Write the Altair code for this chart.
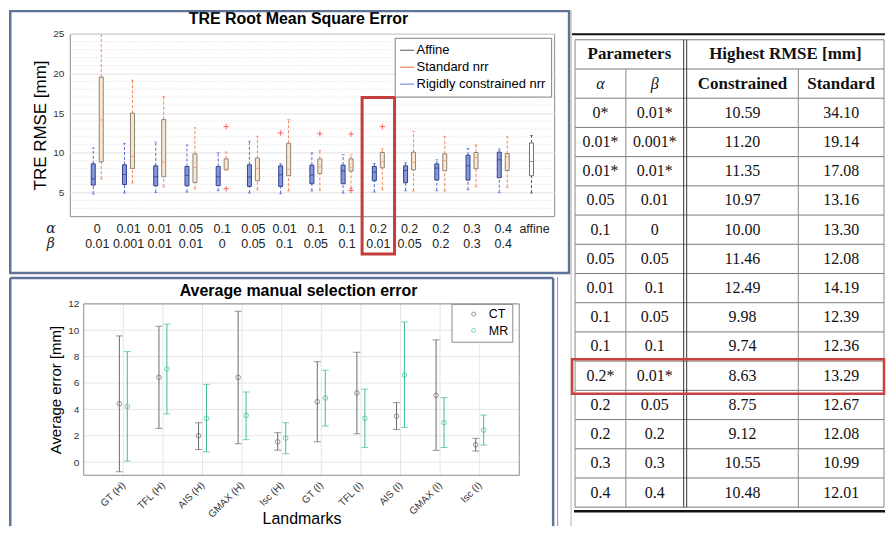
import altair as alt
import pandas as pd

# ---------------- TRE RMSE box plots ----------------
alphas = ["0", "0.01", "0.01", "0.05", "0.1", "0.05", "0.01", "0.1", "0.1", "0.2", "0.2", "0.2", "0.3", "0.4", "affine"]
betas = ["0.01", "0.001", "0.01", "0.01", "0", "0.05", "0.1", "0.05", "0.1", "0.01", "0.05", "0.2", "0.3", "0.4", ""]

con_lo = [4.80, 4.92, 5.00, 5.04, 5.21, 4.92, 4.84, 5.17, 4.92, 5.04, 5.21, 5.21, 5.34, 4.96]
con_q1 = [5.92, 6.00, 5.84, 5.84, 5.84, 5.76, 5.76, 6.09, 6.09, 6.47, 6.22, 6.55, 6.55, 6.85]
con_med = [6.72, 7.26, 6.97, 7.14, 6.97, 6.93, 7.22, 7.18, 7.73, 7.56, 7.77, 8.06, 8.35, 9.11]
con_q3 = [8.60, 8.48, 8.35, 8.27, 8.27, 8.48, 8.35, 8.44, 8.44, 8.27, 8.35, 8.60, 9.69, 10.07]
con_hi = [10.59, 11.20, 11.35, 10.97, 10.00, 11.46, 8.60, 9.98, 9.74, 8.63, 8.75, 9.12, 10.55, 10.48]

std_lo = [6.68, 6.18, 5.71, 5.46, 7.85, 5.34, 5.17, 5.25, 5.50, 5.34, 5.17, 5.17, 5.71, 5.63]
std_q1 = [8.86, 8.02, 6.97, 6.26, 7.85, 6.47, 7.10, 7.39, 7.68, 8.10, 7.85, 7.73, 7.98, 7.77]
std_med = [14.13, 9.53, 8.86, 8.14, 7.93, 8.02, 7.93, 8.23, 8.10, 8.90, 8.77, 9.02, 9.40, 9.48]
std_q3 = [19.54, 15.00, 14.18, 9.86, 9.23, 9.32, 11.20, 9.23, 9.23, 10.03, 10.07, 9.86, 10.03, 9.90]
std_hi = [34.10, 19.14, 17.08, 13.16, 10.10, 12.08, 14.19, 10.28, 9.74, 10.49, 12.67, 12.08, 10.99, 12.01]

aff_lo, aff_q1, aff_med, aff_q3, aff_hi = [4.92], [7.10], [8.90], [11.24], [12.17]

con_out_cat = [7]
con_out_val = [12.49]
std_out_cat = [5, 5, 8, 9, 9, 10]
std_out_val = [13.30, 5.46, 12.39, 12.36, 5.25, 13.29]
highlight_cat = 10

# ---------------- Average manual selection error ----------------
landmarks = ["GT (H)", "TFL (H)", "AIS (H)", "GMAX (H)", "Isc (H)",
             "GT (I)", "TFL (I)", "AIS (I)", "GMAX (I)", "Isc (I)"]
ct_mean = [4.43, 6.43, 2.00, 6.43, 1.54, 4.58, 5.24, 3.49, 5.06, 1.32]
ct_hi = [9.57, 10.30, 2.99, 11.44, 2.23, 7.62, 8.33, 4.51, 9.27, 1.80]
ct_lo = [-0.73, 2.56, 0.96, 1.39, 0.91, 1.54, 2.15, 2.48, 0.89, 0.84]
mr_mean = [4.23, 7.06, 3.32, 3.54, 1.82, 4.86, 3.32, 6.61, 2.99, 2.43]
mr_hi = [8.38, 10.46, 5.90, 5.32, 2.99, 6.96, 5.54, 10.63, 4.89, 3.57]
mr_lo = [0.08, 3.65, 0.78, 1.70, 0.63, 2.73, 1.11, 2.63, 1.11, 1.29]
err_ticks = [0, 2, 4, 6, 8, 10, 12]

# ---------------- Table ----------------
tbl_alpha = ["0*", "0.01*", "0.01*", "0.05", "0.1", "0.05", "0.01", "0.1", "0.1", "0.2*", "0.2", "0.2", "0.3", "0.4"]
tbl_beta = ["0.01*", "0.001*", "0.01*", "0.01", "0", "0.05", "0.1", "0.05", "0.1", "0.01*", "0.05", "0.2", "0.3", "0.4"]
tbl_con = [10.59, 11.20, 11.35, 10.97, 10.00, 11.46, 12.49, 9.98, 9.74, 8.63, 8.75, 9.12, 10.55, 10.48]
tbl_std = [34.10, 19.14, 17.08, 13.16, 13.30, 12.08, 14.19, 12.39, 12.36, 13.29, 12.67, 12.08, 10.99, 12.01]
tbl_highlight = 9

# ---------------- styles ----------------
FRAME = "#5f7397"
one = pd.DataFrame({"k": [0]})

# ======================= TOP CHART =======================
TW, TH = 486, 183
X_SCALE = alt.Scale(domain=[0.28, 15.47], nice=False, zero=False)
Y_SCALE = alt.Scale(domain=[2, 25], nice=False, zero=False)
Y_AXIS = alt.Axis(values=[5, 10, 15, 20, 25], title="TRE RMSE [mm]", titleFontSize=17,
                  titleFontWeight="normal", titleColor="#000", titlePadding=3,
                  labelFontSize=10, labelColor="#333", labelPadding=6, ticks=False,
                  domain=False, grid=True, gridColor="#e2e2e2")


def tx(f="pos"):
    return alt.X(f"{f}:Q", scale=X_SCALE, axis=None)


def ty(f):
    return alt.Y(f"{f}:Q", scale=Y_SCALE, axis=Y_AXIS)


def box_df(lo, q1, med, q3, hi, positions):
    return pd.DataFrame({"pos": positions, "lo": lo, "q1": q1, "med": med, "q3": q3, "hi": hi})


pos_all = list(range(1, len(alphas) + 1))
con_df = box_df(con_lo, con_q1, con_med, con_q3, con_hi, pos_all[:14])
std_df = box_df(std_lo, std_q1, std_med, std_q3, std_hi, pos_all[:14])
aff_df = box_df(aff_lo, aff_q1, aff_med, aff_q3, aff_hi, pos_all[14:])


def box_layers(df, off, fill, edge, whisk, med):
    base = alt.Chart(df)
    up = base.mark_rule(color=whisk, strokeDash=[3, 2], strokeWidth=1, xOffset=off, clip=True).encode(
        x=tx(), y=ty("q3"), y2="hi:Q")
    dn = base.mark_rule(color=whisk, strokeDash=[3, 2], strokeWidth=1, xOffset=off, clip=True).encode(
        x=tx(), y=ty("lo"), y2="q1:Q")
    c1 = base.mark_tick(orient="horizontal", size=3, thickness=1, color=whisk, xOffset=off, clip=True).encode(
        x=tx(), y=ty("hi"))
    c2 = base.mark_tick(orient="horizontal", size=3, thickness=1, color=whisk, xOffset=off, clip=True).encode(
        x=tx(), y=ty("lo"))
    box = base.mark_bar(size=4, fill=fill, stroke=edge, strokeWidth=1, xOffset=off).encode(
        x=tx(), y=ty("q1"), y2="q3:Q")
    md = base.mark_tick(orient="horizontal", size=4, thickness=1, color=med, xOffset=off).encode(
        x=tx(), y=ty("med"))
    return [up, dn, c1, c2, box, md]


con_layers = box_layers(con_df, -4, "#8797dc", "#33438f", "#5c66d4", "#26368f")
std_layers = box_layers(std_df, 4, "#fbe6d2", "#8f8378", "#f5845c", "#f0905e")
aff_layers = box_layers(aff_df, -3, "#ffffff", "#707070", "#555555", "#707070")

plus = "M -1 0 L 1 0 M 0 -1 L 0 1"
out_con = alt.Chart(pd.DataFrame({"pos": con_out_cat, "v": con_out_val})).mark_point(
    shape=plus, size=30, color="#ff2020", strokeWidth=1, filled=False, xOffset=-4).encode(x=tx(), y=ty("v"))
out_std = alt.Chart(pd.DataFrame({"pos": std_out_cat, "v": std_out_val})).mark_point(
    shape=plus, size=30, color="#ff2020", strokeWidth=1, filled=False, xOffset=4).encode(x=tx(), y=ty("v"))

minor_vals = [v for v in range(3, 25) if v % 5]
minor = alt.Chart(pd.DataFrame({"v": minor_vals})).mark_rule(
    color="#cfcfcf", strokeDash=[1, 2], strokeWidth=0.8).encode(y=ty("v"))

cats = pd.DataFrame({"pos": pos_all, "alpha": alphas, "beta": betas})
lab_a = alt.Chart(cats).mark_text(fontSize=12.5, color="#222").encode(x=tx(), y=alt.value(196), text="alpha:N")
lab_b = alt.Chart(cats).mark_text(fontSize=12.5, color="#222").encode(x=tx(), y=alt.value(211), text="beta:N")
sym_a = alt.Chart(one).mark_text(text="α", font="DejaVu Serif", fontStyle="italic", fontSize=14,
                                 color="#222").encode(x=alt.value(-19), y=alt.value(196))
sym_b = alt.Chart(one).mark_text(text="β", font="DejaVu Serif", fontStyle="italic", fontSize=14,
                                 color="#222").encode(x=alt.value(-19), y=alt.value(211))

hl = alt.Chart(pd.DataFrame({"x0": [highlight_cat - 0.52], "x1": [highlight_cat + 0.52]})).mark_rect(
    filled=False, stroke="#c43c3c", strokeWidth=3).encode(
    x=tx("x0"), x2="x1:Q", y=alt.value(64), y2=alt.value(221))

top_title = alt.Chart(one).mark_text(text="TRE Root Mean Square Error", fontSize=16, fontWeight="bold",
                                     color="#000").encode(x=alt.value(229.5), y=alt.value(-14.5))
top_frame = alt.Chart(one).mark_rect(filled=False, stroke=FRAME, strokeWidth=2.5).encode(
    x=alt.value(-59.75), x2=alt.value(501), y=alt.value(-22.75), y2=alt.value(240))

series_top = ["Affine", "Standard nrr", "Rigidly constrained nrr"]
leg_top = alt.Chart(pd.DataFrame({"series": series_top})).mark_rule(opacity=0).encode(
    x=alt.value(0), x2=alt.value(1), y=alt.value(0),
    color=alt.Color("series:N",
                    scale=alt.Scale(domain=series_top, range=["#555555", "#f26b3a", "#6470d8"]),
                    legend=alt.Legend(title=None, orient="none", legendX=326, legendY=4,
                                      symbolType="stroke", symbolSize=196, symbolStrokeWidth=1,
                                      symbolOpacity=1, labelFontSize=13, labelColor="#000",
                                      labelOffset=2, rowPadding=2, padding=5,
                                      strokeColor="#7f7f7f", fillColor="#ffffff")))

box_chart = alt.layer(minor, *aff_layers, *std_layers, *con_layers, out_con, out_std,
                      lab_a, lab_b, sym_a, sym_b, hl, top_title, top_frame, leg_top)

# ======================= TABLE (drawn beside the box chart) =======================
TX0, TY0 = 507, 6          # table origin relative to the box-plot area
TBW, TBH = 310, 469
COL_EDGES = [0, 51, 109, 112, 224, 310]
T_X = alt.Scale(domain=[0, TBW], nice=False, zero=False, range=[TX0, TX0 + TBW])
T_Y = alt.Scale(domain=[0, 16], nice=False, zero=False, range=[TY0, TY0 + TBH])
cx = [(COL_EDGES[0] + COL_EDGES[1]) / 2, (COL_EDGES[1] + COL_EDGES[2]) / 2,
      (COL_EDGES[3] + COL_EDGES[4]) / 2, (COL_EDGES[4] + COL_EDGES[5]) / 2]

rows = []
for r in range(len(tbl_alpha)):
    k = r + 2.5
    rows += [{"x": cx[0], "y": k, "t": tbl_alpha[r]}, {"x": cx[1], "y": k, "t": tbl_beta[r]},
             {"x": cx[2], "y": k, "t": f"{tbl_con[r]:.2f}"}, {"x": cx[3], "y": k, "t": f"{tbl_std[r]:.2f}"}]
cells = pd.DataFrame(rows)
heads_b = pd.DataFrame({"x": [(COL_EDGES[0] + COL_EDGES[2]) / 2, (COL_EDGES[3] + COL_EDGES[5]) / 2, cx[2], cx[3]],
                        "y": [0.5, 0.5, 1.5, 1.5],
                        "t": ["Parameters", "Highest RMSE [mm]", "Constrained", "Standard"]})
heads_i = pd.DataFrame({"x": [cx[0], cx[1]], "y": [1.5, 1.5], "t": ["α", "β"]})


def txt(df, **kw):
    return alt.Chart(df).mark_text(font="Liberation Serif", color="#111", **kw).encode(
        x=alt.X("x:Q", scale=T_X, axis=None), y=alt.Y("y:Q", scale=T_Y, axis=None), text="t:N")


hl_df = pd.DataFrame({"k": list(range(17)), "x0": [0] * 17, "x1": [TBW] * 17})
hlines = alt.Chart(hl_df).mark_rule(color="#7a7a7a", strokeWidth=1).encode(
    x=alt.X("x0:Q", scale=T_X, axis=None), x2="x1:Q", y=alt.Y("k:Q", scale=T_Y, axis=None))
vl = pd.DataFrame({"x": [COL_EDGES[0], COL_EDGES[5], COL_EDGES[1], COL_EDGES[4]],
                   "k0": [0, 0, 1, 1], "k1": [16, 16, 16, 16]})
vlines = alt.Chart(vl).mark_rule(color="#8a8a8a", strokeWidth=1).encode(
    x=alt.X("x:Q", scale=T_X, axis=None), y=alt.Y("k0:Q", scale=T_Y, axis=None), y2="k1:Q")
dl = pd.DataFrame({"x": [COL_EDGES[2], COL_EDGES[3]], "k0": [0, 0], "k1": [16, 16]})
dlines = alt.Chart(dl).mark_rule(color="#333333", strokeWidth=1).encode(
    x=alt.X("x:Q", scale=T_X, axis=None), y=alt.Y("k0:Q", scale=T_Y, axis=None), y2="k1:Q")
top_rule = alt.Chart(one).mark_rule(color="#111", strokeWidth=2).encode(
    x=alt.value(TX0 - 3), x2=alt.value(TX0 + TBW + 1), y=alt.value(TY0 - 5.5))
bot_rule = alt.Chart(one).mark_rule(color="#111", strokeWidth=2.5).encode(
    x=alt.value(TX0 - 1), x2=alt.value(TX0 + TBW + 1), y=alt.value(TY0 + TBH + 4))
sep = alt.Chart(one).mark_rule(color="#b5b5b5", strokeWidth=1).encode(
    x=alt.value(TX0 - 4), y=alt.value(TY0 - 29), y2=alt.value(TY0 + TBH + 19))
k_hl = tbl_highlight + 2
red = alt.Chart(pd.DataFrame({"a": [k_hl - 0.06], "b": [k_hl + 1.12]})).mark_rect(
    filled=False, stroke="#c94040", strokeWidth=2.5).encode(
    x=alt.value(TX0 - 3), x2=alt.value(TX0 + TBW), y=alt.Y("a:Q", scale=T_Y, axis=None), y2="b:Q")

table = alt.layer(sep, hlines, vlines, dlines, top_rule, bot_rule,
                  txt(cells, fontSize=16), txt(heads_b, fontSize=17, fontWeight="bold"),
                  txt(heads_i, fontSize=16, fontStyle="italic"), red)

top = alt.layer(box_chart, table).resolve_scale(x="independent", y="independent").properties(
    width=TW, height=TH, view=alt.ViewBackground(stroke="#8c8c8c"))

# ======================= BOTTOM CHART =======================
BSH = 14                   # horizontal shift of this plot area relative to the box plot
BW, BH = 437, 172
BX = alt.X("lm:N", sort=landmarks, scale=alt.Scale(type="point", padding=1, range=[BSH, BSH + BW]),
           axis=alt.Axis(title="Landmarks", titleFontSize=16, titleFontWeight="normal", titleColor="#000",
                         titleY=35, labelAngle=-45, labelAlign="right", labelBaseline="middle",
                         labelFontSize=10, labelColor="#333", labelPadding=8, ticks=False, domain=False,
                         grid=False))
B_YS = alt.Scale(domain=[-1, 12], nice=False, zero=False)
B_YAX = alt.Axis(values=err_ticks, title="Average error [mm]", titleFontSize=15, offset=-BSH,
                 titleFontWeight="normal", titleColor="#000", titlePadding=4, labelFontSize=10,
                 labelColor="#333", labelPadding=5, ticks=False, domain=False, grid=False)


def by(f):
    return alt.Y(f"{f}:Q", scale=B_YS, axis=B_YAX)


ct_df = pd.DataFrame({"lm": landmarks, "series": "CT", "mean": ct_mean, "lo": ct_lo, "hi": ct_hi})
mr_df = pd.DataFrame({"lm": landmarks, "series": "MR", "mean": mr_mean, "lo": mr_lo, "hi": mr_hi})
COL_B = alt.Color("series:N", scale=alt.Scale(domain=["CT", "MR"], range=["#6b6b6b", "#3ebf92"]),
                  legend=alt.Legend(title=None, orient="none", legendX=BSH + 369, legendY=0, symbolType="circle",
                                    symbolSize=16, symbolStrokeWidth=1, labelFontSize=12.5, labelColor="#000",
                                    padding=4, symbolOffset=12, labelOffset=9, rowPadding=3.5,
                                    strokeColor="#8c8c8c", fillColor="#ffffff"))


def err_layers(df, off, col):
    base = alt.Chart(df)
    bar = base.mark_rule(color=col, strokeWidth=1, xOffset=off).encode(x=BX, y=by("lo"), y2="hi:Q")
    c1 = base.mark_tick(orient="horizontal", size=7, thickness=1, color=col, xOffset=off).encode(x=BX, y=by("lo"))
    c2 = base.mark_tick(orient="horizontal", size=7, thickness=1, color=col, xOffset=off).encode(x=BX, y=by("hi"))
    pt = base.mark_point(filled=False, size=22, strokeWidth=1, xOffset=off).encode(x=BX, y=by("mean"), color=COL_B)
    return [bar, c1, c2, pt]


vgrid = alt.Chart(pd.DataFrame({"lm": landmarks})).mark_rule(color="#e6e6e6", strokeWidth=1).encode(
    x=BX, y=alt.value(0), y2=alt.value(BH))
hgrid = alt.Chart(pd.DataFrame({"v": err_ticks})).mark_rule(color="#e6e6e6", strokeWidth=1).encode(
    y=by("v"), x=alt.value(BSH), x2=alt.value(BSH + BW))
border = alt.Chart(one).mark_rect(filled=False, stroke="#8c8c8c", strokeWidth=1).encode(
    x=alt.value(BSH), x2=alt.value(BSH + BW), y=alt.value(0), y2=alt.value(BH))
bot_title = alt.Chart(one).mark_text(text="Average manual selection error", fontSize=16, fontWeight="bold",
                                     color="#000").encode(x=alt.value(BSH + 215.5), y=alt.value(-13))
FL, FR, FT, FB = BSH - 73.75, BSH + 471, -26, 223
frame_sides = pd.DataFrame({"x0": [FL, FR, FL], "x1": [FL, FR, FR], "y0": [FT, FT, FT], "y1": [FB, FB, FT]})
bot_frame = alt.Chart(frame_sides).mark_rule(color=FRAME, strokeWidth=2.5).encode(
    x=alt.X("x0:Q", scale=None), x2="x1:Q", y=alt.Y("y0:Q", scale=None), y2="y1:Q")
outer_edge = alt.Chart(one).mark_rule(color="#8797b5", strokeWidth=1).encode(
    x=alt.value(FR + 4.5), y=alt.value(FT - 1), y2=alt.value(FB))

bottom = alt.layer(vgrid, hgrid, border, *err_layers(ct_df, -4, "#6b6b6b"), *err_layers(mr_df, 4, "#3ebf92"),
                   bot_title, bot_frame, outer_edge).properties(
    width=BSH + BW, height=BH, view=alt.ViewBackground(strokeOpacity=0))

chart = alt.vconcat(top, bottom, spacing=88, bounds="flush").resolve_scale(
    color="independent").resolve_legend(color="independent").properties(padding=0).configure(
    font="Liberation Sans")

chart.save("out.html", embed_options={"renderer": "svg", "actions": False})
